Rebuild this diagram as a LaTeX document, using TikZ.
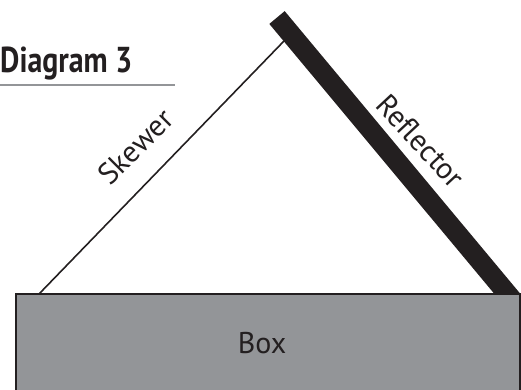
\documentclass[tikz,border=0pt]{standalone}
\usepackage{fontspec}
\setmainfont{PT Sans}
\newfontfamily\titlefont[FakeStretch=0.83]{PT Sans}
\definecolor{boxgray}{HTML}{939598}
\definecolor{ink}{HTML}{231F20}
\tikzset{
  label text/.style={inner sep=0pt, text=ink, font=\fontsize{30}{32}\selectfont},
}
\begin{document}
\begin{tikzpicture}[x=1pt, y=-1pt] %Diagrama 3
            \useasboundingbox (0,0) rectangle (521,389);
            \clip (0,0) rectangle (521,389);

            \coordinate (skewerbase) at (39,294);
            \coordinate (skewertip) at (284,41);
            \coordinate (reflectortop) at (277,17.5);
            \coordinate (reflectorfoot) at (512.5,300);

            \node[anchor=base west, inner sep=0pt, text=ink, font=\titlefont\bfseries\fontsize{36}{38}\selectfont] (title) at (0,72) {Diagram 3};
            \draw[color=boxgray, line width=2] (0,85) -- (175,85);

            \draw[color=ink, line width=1.6] (skewerbase) -- (skewertip);
            \draw[color=ink, line width=20, line cap=butt] (reflectortop) -- (reflectorfoot);

            \filldraw[color=ink, fill=boxgray, line width=1.5] (16,294) rectangle (520,400);

            \node[label text, anchor=base] (boxlabel) at (262,353) {Box};
            \node[label text, anchor=base, rotate=45] (skewerlabel) at (143,154) {Skewer};
            \node[label text, anchor=base, rotate=-47] (reflectorlabel) at (413,148) {Reflector};
        \end{tikzpicture}
\end{document}
